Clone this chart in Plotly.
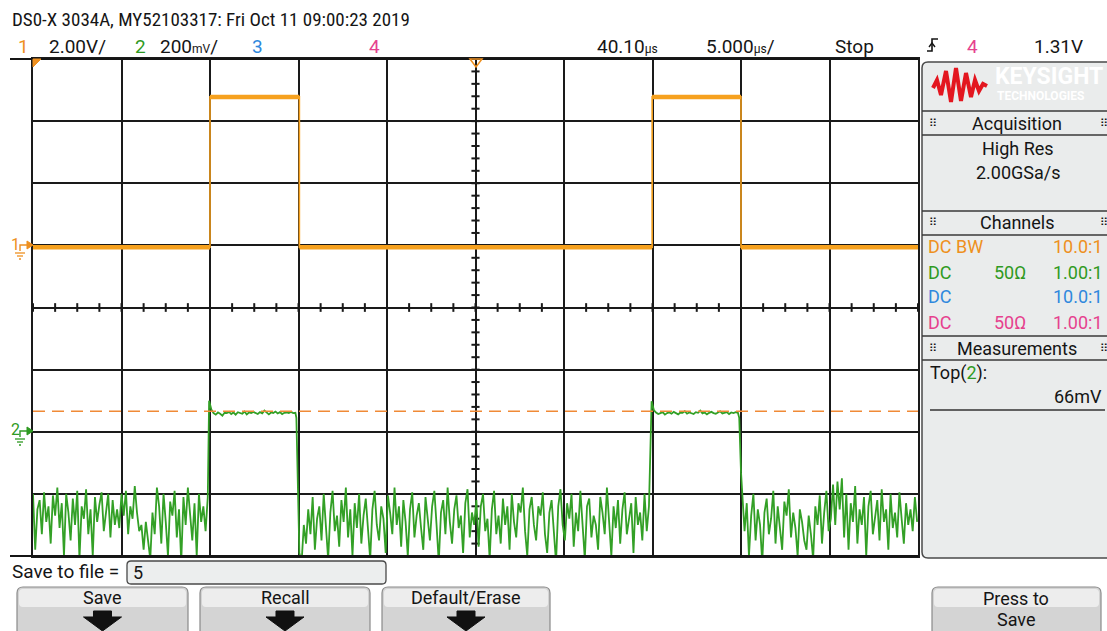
import numpy as np
import plotly.graph_objects as go

W, H = 1107, 631

# ---------------- scope settings (data) ----------------
time_per_div_us = 5.0
delay_us = 40.10
ch1_volts_per_div = 2.0
ch2_volts_per_div = 0.2
ch1_ground_div = 1.0
ch2_ground_div = -2.0
ch2_top_mv = 66

# ---------------- channel 1 (volts) ----------------
ch1_t_us = [15.1, 25.1, 25.1, 30.15, 30.15, 50.08, 50.08, 55.1, 55.1, 65.1]
ch1_v = [-0.06, -0.06, 4.78, 4.78, -0.06, -0.06, 4.78, 4.78, -0.06, -0.06]

# ---------------- channel 2 (millivolts) ----------------
ch2_step_us = 0.125
ch2_noise1_start_us = 15.1
ch2_noise1_mv = [-200, -380, -250, -220, -330, -195, -290, -240, -360, -205,
                 -270, -180, -310, -230, -400, -200, -260, -350, -215, -300,
                 -190, -410, -240, -280, -185, -330, -250, -400, -210, -290,
                 -235, -195, -320, -260, -200, -340, -220, -300, -250, -310,
                 -200, -270, -190, -330, -240, -280, -175, -260, -320, -300,
                 -380, -290, -350, -410, -260, -330, -180, -240, -360, -200,
                 -290, -400, -225, -270, -190, -340, -250, -420, -210, -300,
                 -180, -260, -350, -230, -400, -200, -290, -240, -320, -210]
ch2_pulse1_start_us = 25.05
ch2_pulse1_mv = [100, 72, 60, 55, 62, 58, 52, 61, 60, 64,
                 57, 62, 55, 63, 60, 58, 65, 56, 62, 60,
                 64, 61, 57, 63, 59, 68, 61, 56, 62, 60,
                 65, 59, 63, 57, 61, 62, 60, 64, 60, 61]
ch2_fall1_t_us = [29.98, 30.05]
ch2_fall1_mv = [45, -120]
ch2_noise2_start_us = 30.15
ch2_noise2_mv = [-390, -420, -300, -360, -250, -330, -210, -380, -280, -240,
                 -350, -200, -300, -410, -260, -190, -320, -270, -370, -220,
                 -290, -180, -340, -250, -400, -230, -310, -200, -360, -270,
                 -215, -330, -410, -250, -190, -300, -350, -240, -280, -390,
                 -205, -260, -330, -180, -300, -240, -370, -220, -290, -400,
                 -250, -195, -340, -270, -230, -310, -380, -210, -280, -350,
                 -240, -190, -300, -420, -260, -220, -330, -180, -290, -360,
                 -250, -205, -310, -270, -390, -230, -185, -340, -260, -300,
                 -220, -370, -240, -200, -320, -280, -410, -250, -190, -330,
                 -270, -360, -215, -300, -240, -380, -200, -290, -340, -230,
                 -260, -180, -320, -400, -250, -210, -300, -350, -240, -270,
                 -195, -330, -390, -260, -220, -310, -420, -240, -185, -300,
                 -350, -230, -280, -200, -370, -260, -320, -190, -290, -410,
                 -240, -215, -340, -270, -300, -380, -210, -260, -330, -180,
                 -290, -400, -240, -310, -220, -360, -250, -195, -330, -280,
                 -230, -390, -210, -300, -260, -350, -200, -320, -240]
ch2_pulse2_start_us = 50.05
ch2_pulse2_mv = [98, 70, 62, 57, 60, 63, 55, 60, 62, 58,
                 64, 60, 56, 62, 61, 66, 58, 62, 60, 57,
                 63, 61, 68, 59, 62, 56, 61, 64, 60, 58,
                 62, 66, 59, 61, 63, 57, 62, 60, 63, 61]
ch2_fall2_t_us = [55.0, 55.1]
ch2_fall2_mv = [45, -130]
ch2_noise3_start_us = 55.3
ch2_noise3_mv = [-320, -230, -400, -270, -200, -350, -250, -300, -420, -260,
                 -215, -330, -280, -190, -360, -240, -300, -380, -225, -270,
                 -185, -340, -260, -310, -400, -250, -290, -350, -380, -270,
                 -330, -410, -240, -300, -205, -360, -260, -190, -320, -280,
                 -170, -300, -160, -250, -150, -340, -200, -380, -230, -290,
                 -175, -360, -250, -300, -210, -400, -240, -190, -330, -270,
                 -220, -350, -185, -290, -250, -380, -200, -310, -260, -340,
                 -195, -280, -360, -230, -300, -250, -320, -210, -290]

# ---------------- build traces ----------------
def sampled(start, vals):
    return list(start + ch2_step_us * np.arange(len(vals))), list(vals)

parts = [sampled(ch2_noise1_start_us, ch2_noise1_mv),
         sampled(ch2_pulse1_start_us, ch2_pulse1_mv),
         (ch2_fall1_t_us, ch2_fall1_mv),
         sampled(ch2_noise2_start_us, ch2_noise2_mv),
         sampled(ch2_pulse2_start_us, ch2_pulse2_mv),
         (ch2_fall2_t_us, ch2_fall2_mv),
         sampled(ch2_noise3_start_us, ch2_noise3_mv)]
ch2_t = np.concatenate([np.array(p[0], float) for p in parts])
ch2_mv = np.concatenate([np.array(p[1], float) for p in parts])
ch2_div = ch2_ground_div + ch2_mv / 1000.0 / ch2_volts_per_div

ch1_div = [ch1_ground_div + v / ch1_volts_per_div for v in ch1_v]
flat_x, flat_y = [], []
for i in range(len(ch1_t_us) - 1):
    if ch1_v[i] == ch1_v[i + 1]:
        flat_x += [ch1_t_us[i], ch1_t_us[i + 1], None]
        flat_y += [ch1_div[i], ch1_div[i + 1], None]

x_lo = delay_us - 5 * time_per_div_us
x_hi = delay_us + 5 * time_per_div_us

# graticule centre minor ticks
tick_x, tick_y = [], []
for k in range(41):
    t = x_lo + k * time_per_div_us / 4
    tick_x += [t, t, None]
    tick_y += [-0.07, 0.07, None]
for k in range(41):
    yv = -4 + k * 0.2
    tick_x += [delay_us - 0.23, delay_us + 0.23, None]
    tick_y += [yv, yv, None]

fig = go.Figure()
fig.add_trace(go.Scatter(x=tick_x, y=tick_y, mode="lines",
                         line=dict(color="#1a1a1a", width=2), hoverinfo="skip"))
fig.add_trace(go.Scatter(x=ch2_t, y=ch2_div, mode="lines",
                         line=dict(color="#33a026", width=1.8), hoverinfo="skip"))
fig.add_trace(go.Scatter(x=ch1_t_us, y=ch1_div, mode="lines",
                         line=dict(color="#f6a11e", width=1.6), hoverinfo="skip"))
fig.add_trace(go.Scatter(x=flat_x, y=flat_y, mode="lines",
                         line=dict(color="#f6a11e", width=4.5), hoverinfo="skip"))

NARROW = "Liberation Sans Narrow, Roboto Condensed, DejaVu Sans Condensed, Arial Narrow, sans-serif"
FONT = "Roboto, Liberation Sans, sans-serif"
ORANGE = "#ee9020"
GREEN = "#2f9a22"
BLUE = "#2f88dd"
PINK = "#e6418e"
DARK = "#151515"

ann = []
shapes = []


def T(x, y, s, size=18, color=DARK, anchor="left", family=FONT):
    ann.append(dict(x=x / W, y=1 - y / H, xref="paper", yref="paper", text=s,
                    showarrow=False, xanchor=anchor, yanchor="middle",
                    font=dict(family=family, size=size, color=color)))


def L(x0, y0, x1, y1, color=DARK, width=1.5, dash=None):
    shapes.append(dict(type="line", xref="paper", yref="paper",
                       x0=x0 / W, y0=1 - y0 / H, x1=x1 / W, y1=1 - y1 / H,
                       line=dict(color=color, width=width, dash=dash)))


def P(pts, fill=None, color=DARK, width=1.5, close=True, layer="above"):
    d = "M " + " L ".join(f"{x / W:.5f},{1 - y / H:.5f}" for x, y in pts)
    if close:
        d += " Z"
    shapes.append(dict(type="path", xref="paper", yref="paper", path=d,
                       fillcolor=fill if fill else "rgba(0,0,0,0)",
                       line=dict(color=color, width=width), layer=layer))


def RR(x0, y0, x1, y1, r, fill, color, width=1.2, layer="above"):
    def X(v): return f"{v / W:.5f}"
    def Y(v): return f"{1 - v / H:.5f}"
    d = (f"M {X(x0 + r)},{Y(y0)} L {X(x1 - r)},{Y(y0)} Q {X(x1)},{Y(y0)} {X(x1)},{Y(y0 + r)} "
         f"L {X(x1)},{Y(y1 - r)} Q {X(x1)},{Y(y1)} {X(x1 - r)},{Y(y1)} "
         f"L {X(x0 + r)},{Y(y1)} Q {X(x0)},{Y(y1)} {X(x0)},{Y(y1 - r)} "
         f"L {X(x0)},{Y(y0 + r)} Q {X(x0)},{Y(y0)} {X(x0 + r)},{Y(y0)} Z")
    shapes.append(dict(type="path", xref="paper", yref="paper", path=d,
                       fillcolor=fill, line=dict(color=color, width=width), layer=layer))


# ---- header ----
T(10, 19, "DS0-X 3034A, MY52103317: Fri Oct 11 09:00:23 2019", size=19, family=NARROW)
T(16, 46, "1", size=19, color=ORANGE)
T(47, 46, "2.00V/", size=19)
T(133, 46, "2", size=19, color=GREEN)
T(158, 46, "200<span style='font-size:12px'>mV</span>/", size=19)
T(250, 46, "3", size=19, color=BLUE)
T(367, 46, "4", size=19, color=PINK)
T(595, 46, "40.10<span style='font-size:12px'>µs</span>", size=19)
T(704, 46, "5.000<span style='font-size:12px'>µs</span>/", size=19)
T(833, 46, "Stop", size=19)
P([(927, 51), (932, 51), (932, 39), (938, 39)], close=False, width=1.6)
P([(929, 47), (932, 43), (935, 47)], close=False, width=1.4)
T(965, 46, "4", size=19, color=PINK)
T(1085, 46, "1.31V", size=19, anchor="right")

# ---- graticule border extensions ----
L(10, 59, 918, 59, width=2)
L(10, 556, 918, 556, width=2)

# trigger / position markers
P([(33, 59), (41, 59), (33, 67)], fill=ORANGE, color=ORANGE, width=1)
P([(470, 59), (482, 59), (476, 67)], close=True, color=ORANGE, width=1.5)

# ground markers
for yy, lab, col in [(246, "1", ORANGE), (432, "2", GREEN)]:
    T(9, yy - 2, lab, size=16, color=col)
    P([(20, yy + 5), (20, yy - 1), (27, yy - 1)], close=False, color=col, width=1.4)
    P([(27, yy - 5), (33, yy - 1), (27, yy + 3)], fill=col, color=col, width=1)
    L(15, yy + 7, 25, yy + 7, color=col, width=1.3)
    L(17, yy + 10, 23, yy + 10, color=col, width=1.3)
    L(19, yy + 13, 21, yy + 13, color=col, width=1.3)

# ---- right panel ----
RR(922, 62, 1120, 558, 6, "#eaecec", "#4a4a4a", width=1.5, layer="below")
for yy in (111, 135, 211, 235, 336, 360):
    L(922, yy, 1107, yy, color="#3a3a3a", width=1.3)
# logo
P([(933, 88), (937, 80), (941, 95), (946, 71), (951, 102), (956, 68), (961, 101),
   (966, 73), (971, 97), (975, 80), (979, 91), (983, 84), (987, 86)],
  close=False, color="#e3161f", width=4)
T(993, 77, "<b>KEYSIGHT</b>", size=23, color="#ffffff")
T(995, 96, "<b>TECHNOLOGIES</b>", size=12, color="#ffffff")

GRIP = "DejaVu Sans, sans-serif"
for yy, lab in [(123, "Acquisition"), (223, "Channels"), (348, "Measurements")]:
    T(1017, yy, lab, size=18, anchor="center")
    T(927, yy, "⠿", size=11, family=GRIP)
    T(1098, yy, "⠿", size=11, family=GRIP)
T(1018, 148, "High Res", size=18, anchor="center")
T(1018, 172, "2.00GSa/s", size=18, anchor="center")

rows = [(247, "DC BW", "", "10.0:1", ORANGE),
        (272, "DC", "50Ω", "1.00:1", GREEN),
        (297, "DC", "", "10.0:1", BLUE),
        (322, "DC", "50Ω", "1.00:1", PINK)]
for yy, a, b, c, col in rows:
    T(926, yy, a, size=18, color=col)
    if b:
        T(992, yy, b, size=18, color=col)
    T(1105, yy, c, size=18, color=col, anchor="right")

T(928, 373, "Top(<span style='color:%s'>2</span>):" % GREEN, size=18)
T(1104, 396, "66mV", size=18, anchor="right")
L(930, 410, 1105, 410, color="#333333", width=1.3)

# ---- soft keys ----
T(10, 571, "Save to file =", size=19)
RR(127, 561, 386, 584, 4, "#eceeee", "#4a4a4a", width=1.3)
T(131, 572, "5", size=18)

buttons = [(17, 188, "Save"), (200, 370, "Recall"), (382, 550, "Default/Erase")]
for x0, x1, lab in buttons:
    RR(x0, 587, x1, 640, 6, "#d4d4d4", "#8a8a8a", width=1.2)
    RR(x0 + 2, 589, x1 - 2, 607, 4, "#ededed", "rgba(0,0,0,0)", width=0)
    cx = (x0 + x1) / 2
    T(cx, 597, lab, size=18, anchor="center")
    P([(cx - 9, 611), (cx + 9, 611), (cx + 9, 617), (cx + 19, 617), (cx, 631),
       (cx - 19, 617), (cx - 9, 617)], fill="#111111", color="#111111", width=1)

RR(932, 587, 1101, 640, 6, "#d4d4d4", "#8a8a8a", width=1.2)
RR(934, 589, 1099, 607, 4, "#ededed", "rgba(0,0,0,0)", width=0)
T(1016, 598, "Press to", size=18, anchor="center")
T(1016, 619, "Save", size=18, anchor="center")

# ---- dashed measurement marker (ch2 Top) ----
top_div = ch2_ground_div + ch2_top_mv / 1000.0 / ch2_volts_per_div
shapes.append(dict(type="line", xref="x", yref="y", x0=x_lo, x1=x_hi, y0=top_div, y1=top_div,
                   line=dict(color="#f08a36", width=1.5, dash="12px,7px")))

fig.update_layout(
    width=W, height=H, autosize=False,
    margin=dict(l=0, r=0, t=0, b=0),
    paper_bgcolor="white", plot_bgcolor="white",
    showlegend=False,
    xaxis=dict(domain=[33 / W, 918 / W], range=[x_lo, x_hi], tick0=x_lo, dtick=time_per_div_us,
               showgrid=True, gridcolor="#1a1a1a", gridwidth=2, zeroline=False,
               showticklabels=False, ticks="", showline=True, linecolor="#1a1a1a",
               linewidth=2, mirror=True, fixedrange=True),
    yaxis=dict(domain=[1 - 556 / H, 1 - 59 / H], range=[-4, 4], tick0=-4, dtick=1,
               showgrid=True, gridcolor="#1a1a1a", gridwidth=2, zeroline=False,
               showticklabels=False, ticks="", showline=True, linecolor="#1a1a1a",
               linewidth=2, mirror=True, fixedrange=True),
    annotations=ann, shapes=shapes,
)

fig.write_html("out.html", config=dict(displayModeBar=False),
               post_script="document.body.style.margin='0';document.body.style.padding='0';")
